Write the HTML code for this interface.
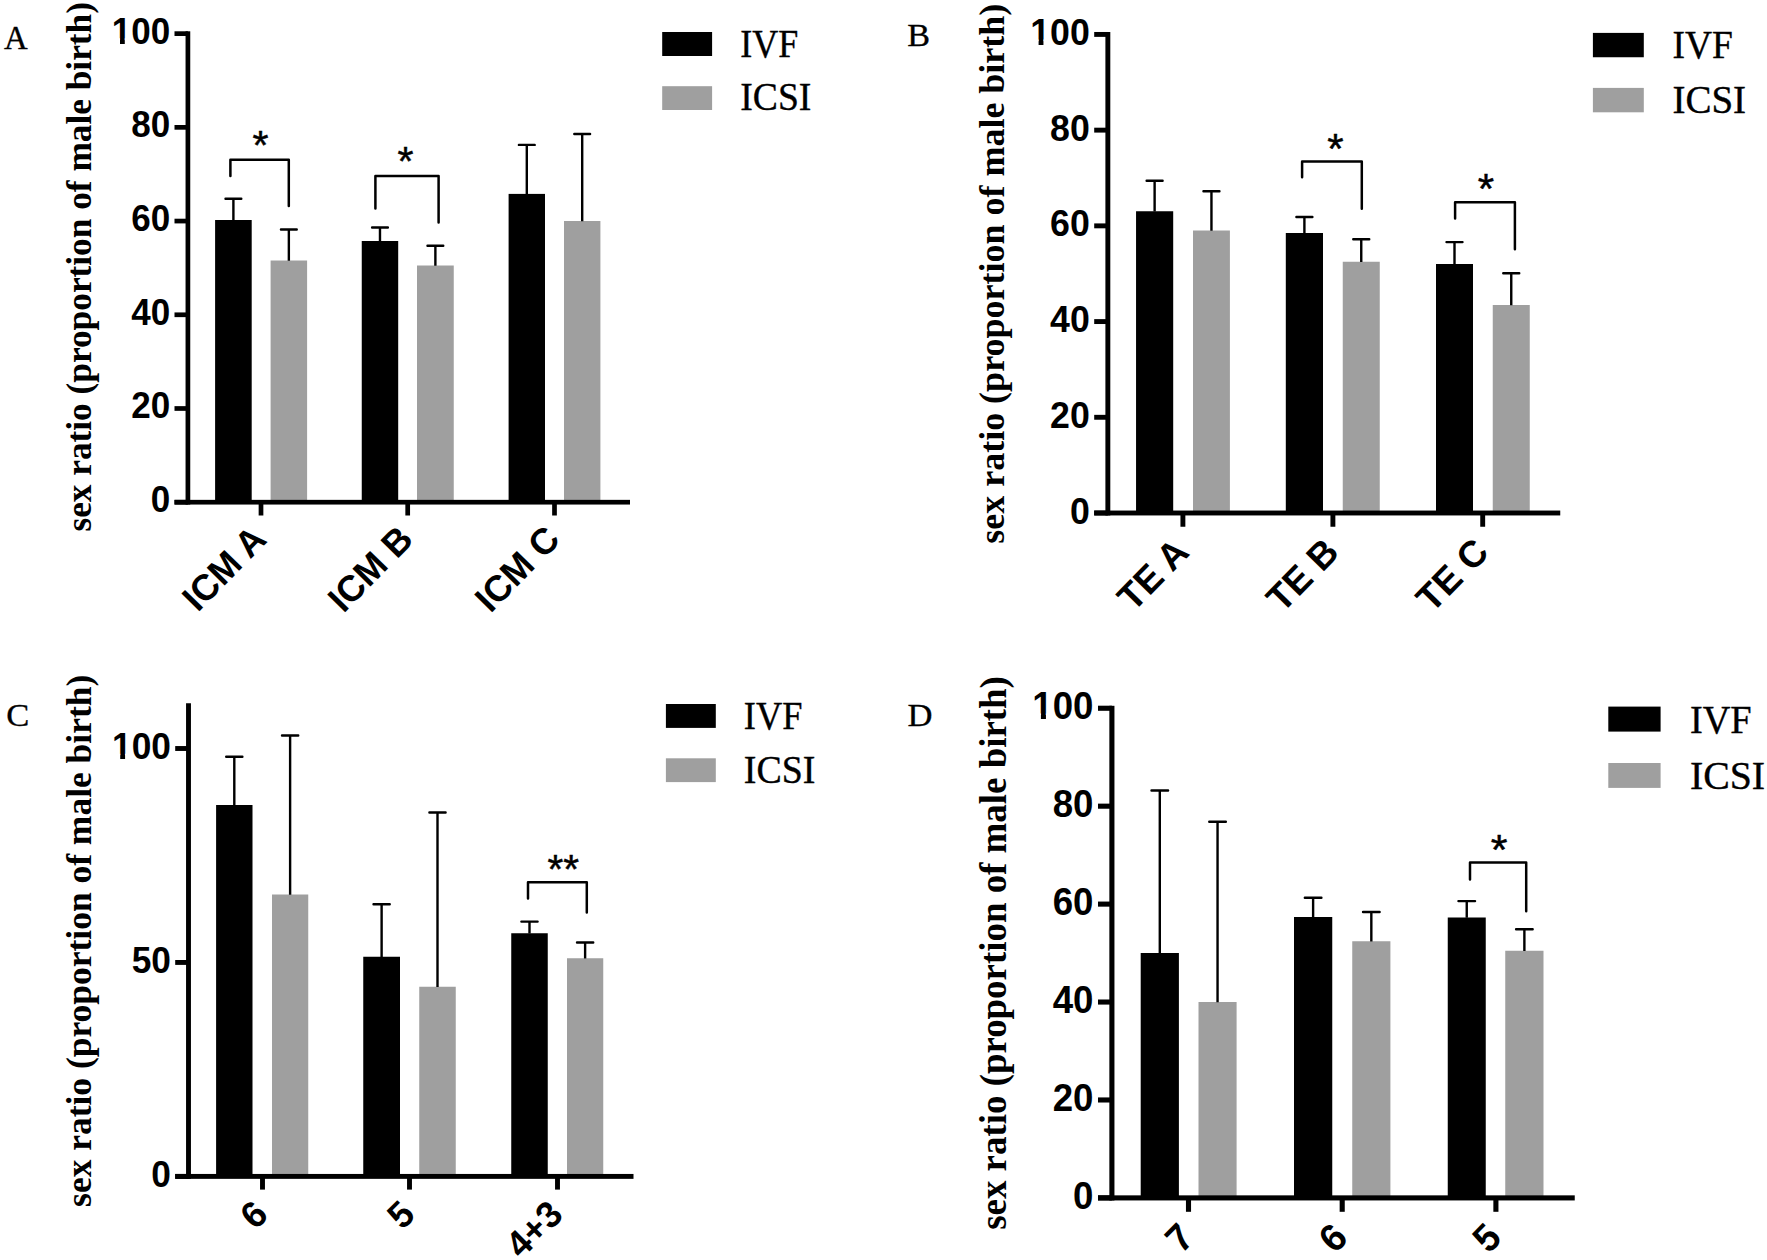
<!DOCTYPE html>
<html lang="en">
<head>
<meta charset="utf-8">
<title>Sex ratio by embryo grade: IVF vs ICSI</title>
<style>
html,body{margin:0;padding:0;background:#fff;}
body{width:1767px;height:1260px;overflow:hidden;}
svg{display:block;}
text{fill:#000;}
.tk{font-family:"Liberation Sans",Arial,Helvetica,sans-serif;font-weight:bold;}
.st{font-family:"Liberation Sans",Arial,Helvetica,sans-serif;font-weight:normal;stroke:#000;stroke-width:0.5px;}
.yl{font-family:"Liberation Serif","Times New Roman",Times,serif;font-weight:bold;}
.lt,.lg{font-family:"Liberation Serif","Times New Roman",Times,serif;font-weight:normal;stroke:#000;stroke-width:0.35px;}
</style>
</head>
<body>
<svg width="1767" height="1260" viewBox="0 0 1767 1260">
<defs>
<clipPath id="nf1"><path clip-rule="evenodd" d="M-68.4 -42H10V17.5H-68.4Z M-57.71 -5.13H-50.23V2H-57.71Z M-45.42 -5.13H-38.4V2H-45.42Z"/></clipPath>
<clipPath id="nf2"><path clip-rule="evenodd" d="M-69.56 -42.84H10V17.85H-69.56Z M-58.87 -5.23H-51.23V2H-58.87Z M-46.33 -5.23H-39.17V2H-46.33Z"/></clipPath>
<clipPath id="nf3"><path clip-rule="evenodd" d="M-68.9 -42.36H10V17.65H-68.9Z M-58.21 -5.17H-50.66V2H-58.21Z M-45.81 -5.17H-38.73V2H-45.81Z"/></clipPath>
<clipPath id="nf4"><path clip-rule="evenodd" d="M-71.15 -43.98H10V18.32H-71.15Z M-60.43 -5.37H-52.59V2H-60.43Z M-47.57 -5.37H-40.21V2H-47.57Z"/></clipPath>
</defs>
<rect x="0" y="0" width="1767" height="1260" fill="#fff"/>
<rect x="215.1" y="220" width="36.6" height="282.2" fill="#000"/>
<rect x="270.6" y="260.5" width="36.5" height="241.7" fill="#9f9f9f"/>
<rect x="361.75" y="241" width="36.45" height="261.2" fill="#000"/>
<rect x="417" y="265.5" width="36.75" height="236.7" fill="#9f9f9f"/>
<rect x="508.6" y="193.9" width="36.4" height="308.3" fill="#000"/>
<rect x="564" y="221" width="36.4" height="281.2" fill="#9f9f9f"/>
<path d="M233.4 220.3V198.75 M288.85 260.8V229.5 M379.98 241.3V227.5 M435.38 265.8V245.75 M526.8 194.2V144.9 M582.2 221.3V134" fill="none" stroke="#000" stroke-width="2.4"/>
<path d="M225.5 198.75H241.3 M280.95 229.5H296.75 M372.08 227.5H387.88 M427.48 245.75H443.27 M518.9 144.9H534.7 M574.3 134H590.1" fill="none" stroke="#000" stroke-width="2.4" stroke-linecap="round"/>
<rect x="185.55" y="31.3" width="4.7" height="473.25" fill="#000"/>
<rect x="174.5" y="499.85" width="455.5" height="4.7" fill="#000"/>
<rect x="174.5" y="499.85" width="13.4" height="4.7" fill="#000"/>
<text class="tk" transform="translate(170.2 512.2) scale(1 1.05)" font-size="35" text-anchor="end">0</text>
<rect x="174.5" y="406.14" width="13.4" height="4.7" fill="#000"/>
<text class="tk" transform="translate(170.2 418.49) scale(1 1.05)" font-size="35" text-anchor="end">20</text>
<rect x="174.5" y="312.43" width="13.4" height="4.7" fill="#000"/>
<text class="tk" transform="translate(170.2 324.78) scale(1 1.05)" font-size="35" text-anchor="end">40</text>
<rect x="174.5" y="218.71" width="13.4" height="4.7" fill="#000"/>
<text class="tk" transform="translate(170.2 231.06) scale(1 1.05)" font-size="35" text-anchor="end">60</text>
<rect x="174.5" y="125" width="13.4" height="4.7" fill="#000"/>
<text class="tk" transform="translate(170.2 137.35) scale(1 1.05)" font-size="35" text-anchor="end">80</text>
<rect x="174.5" y="31.29" width="13.4" height="4.7" fill="#000"/>
<g transform="translate(170.2 43.64) scale(1 1.05)" clip-path="url(#nf1)"><text class="tk" font-size="35" text-anchor="end">100</text></g>
<rect x="258.65" y="502.2" width="4.7" height="13.3" fill="#000"/>
<text class="tk" transform="translate(268.3 541.2) rotate(-45.5) scale(1 1.021)" font-size="35.98" text-anchor="end">ICM A</text>
<rect x="405.35" y="502.2" width="4.7" height="13.3" fill="#000"/>
<text class="tk" transform="translate(415 541.2) rotate(-45.5) scale(1 1.021)" font-size="35.98" text-anchor="end">ICM B</text>
<rect x="552.15" y="502.2" width="4.7" height="13.3" fill="#000"/>
<text class="tk" transform="translate(561.8 541.2) rotate(-45.5) scale(1 1.021)" font-size="35.98" text-anchor="end">ICM C</text>
<path d="M230.4 176V159.8H288.8V206" fill="none" stroke="#000" stroke-width="2.5" stroke-linejoin="round" stroke-linecap="round"/>
<text class="st" transform="translate(260.4 159.21)" font-size="41" text-anchor="middle">*</text>
<path d="M375.4 208.5V176H438.6V222.5" fill="none" stroke="#000" stroke-width="2.5" stroke-linejoin="round" stroke-linecap="round"/>
<text class="st" transform="translate(405.5 175.01)" font-size="41" text-anchor="middle">*</text>
<text class="yl" transform="translate(90.7 531.6) rotate(-90) scale(1 1.02)" font-size="35.3">sex ratio (proportion of male birth)</text>
<text class="lt" transform="translate(4 48.8)" font-size="32.8">A</text>
<rect x="662.2" y="32" width="49.9" height="24" fill="#000"/>
<rect x="662.2" y="86.2" width="49.9" height="23.8" fill="#9f9f9f"/>
<text class="lg" transform="translate(740.3 56.5) scale(0.9858 1.085)" font-size="36.5">IVF</text>
<text class="lg" transform="translate(740.3 110.3) scale(1.031 1.085)" font-size="36.5">ICSI</text>
<rect x="1136.05" y="211.25" width="37.15" height="301.75" fill="#000"/>
<rect x="1193" y="230.5" width="36.9" height="282.5" fill="#9f9f9f"/>
<rect x="1285.8" y="233" width="37.2" height="280" fill="#000"/>
<rect x="1342.75" y="261.75" width="37" height="251.25" fill="#9f9f9f"/>
<rect x="1436" y="264" width="37" height="249" fill="#000"/>
<rect x="1492.75" y="305" width="37" height="208" fill="#9f9f9f"/>
<path d="M1154.62 211.55V180.75 M1211.45 230.8V191.25 M1304.4 233.3V217 M1361.25 262.05V239.25 M1454.5 264.3V242.1 M1511.25 305.3V273.25" fill="none" stroke="#000" stroke-width="2.4"/>
<path d="M1146.62 180.75H1162.62 M1203.45 191.25H1219.45 M1296.4 217H1312.4 M1353.25 239.25H1369.25 M1446.5 242.1H1462.5 M1503.25 273.25H1519.25" fill="none" stroke="#000" stroke-width="2.4" stroke-linecap="round"/>
<rect x="1105.4" y="32" width="4.9" height="483.45" fill="#000"/>
<rect x="1094.2" y="510.55" width="466.05" height="4.9" fill="#000"/>
<rect x="1094.2" y="510.55" width="13.65" height="4.9" fill="#000"/>
<text class="tk" transform="translate(1089.8 523.6) scale(1 1.05)" font-size="35.7" text-anchor="end">0</text>
<rect x="1094.2" y="414.84" width="13.65" height="4.9" fill="#000"/>
<text class="tk" transform="translate(1089.8 427.89) scale(1 1.05)" font-size="35.7" text-anchor="end">20</text>
<rect x="1094.2" y="319.12" width="13.65" height="4.9" fill="#000"/>
<text class="tk" transform="translate(1089.8 332.17) scale(1 1.05)" font-size="35.7" text-anchor="end">40</text>
<rect x="1094.2" y="223.41" width="13.65" height="4.9" fill="#000"/>
<text class="tk" transform="translate(1089.8 236.46) scale(1 1.05)" font-size="35.7" text-anchor="end">60</text>
<rect x="1094.2" y="127.69" width="13.65" height="4.9" fill="#000"/>
<text class="tk" transform="translate(1089.8 140.74) scale(1 1.05)" font-size="35.7" text-anchor="end">80</text>
<rect x="1094.2" y="31.98" width="13.65" height="4.9" fill="#000"/>
<g transform="translate(1089.8 45.03) scale(1 1.05)" clip-path="url(#nf2)"><text class="tk" font-size="35.7" text-anchor="end">100</text></g>
<rect x="1180.45" y="513" width="4.9" height="13.75" fill="#000"/>
<text class="tk" transform="translate(1190.8 554.2) rotate(-45.5) scale(1 1.021)" font-size="36.7" text-anchor="end">TE A</text>
<rect x="1330.45" y="513" width="4.9" height="13.75" fill="#000"/>
<text class="tk" transform="translate(1340.8 554.2) rotate(-45.5) scale(1 1.021)" font-size="36.7" text-anchor="end">TE B</text>
<rect x="1480.25" y="513" width="4.9" height="13.75" fill="#000"/>
<text class="tk" transform="translate(1490.6 554.2) rotate(-45.5) scale(1 1.021)" font-size="36.7" text-anchor="end">TE C</text>
<path d="M1302.1 177.3V161.6H1361.8V208.7" fill="none" stroke="#000" stroke-width="2.5" stroke-linejoin="round" stroke-linecap="round"/>
<text class="st" transform="translate(1335.4 162.83)" font-size="42" text-anchor="middle">*</text>
<path d="M1455.1 218.4V202.2H1514.9V249.3" fill="none" stroke="#000" stroke-width="2.5" stroke-linejoin="round" stroke-linecap="round"/>
<text class="st" transform="translate(1486 203.33)" font-size="42" text-anchor="middle">*</text>
<text class="yl" transform="translate(1003.5 543.8) rotate(-90) scale(1 1.01)" font-size="36">sex ratio (proportion of male birth)</text>
<text class="lt" transform="translate(907.3 46.2) scale(1 0.93)" font-size="34.2">B</text>
<rect x="1592.9" y="32.9" width="50.9" height="24.35" fill="#000"/>
<rect x="1592.9" y="87.9" width="50.9" height="24.4" fill="#9f9f9f"/>
<text class="lg" transform="translate(1672.4 58.1) scale(1.027 1.105)" font-size="36.5">IVF</text>
<text class="lg" transform="translate(1672.4 113.1) scale(1.069 1.105)" font-size="36.5">ICSI</text>
<rect x="216.1" y="805" width="36.4" height="371.4" fill="#000"/>
<rect x="272" y="894.5" width="36.25" height="281.9" fill="#9f9f9f"/>
<rect x="363.25" y="956.75" width="36.75" height="219.65" fill="#000"/>
<rect x="419.25" y="986.75" width="36.5" height="189.65" fill="#9f9f9f"/>
<rect x="511.25" y="933.25" width="36.5" height="243.15" fill="#000"/>
<rect x="567" y="958.25" width="36.25" height="218.15" fill="#9f9f9f"/>
<path d="M234.3 805.3V756.75 M290.12 894.8V735.5 M381.62 957.05V904.25 M437.5 987.05V812.5 M529.5 933.55V921.6 M585.12 958.55V942.5" fill="none" stroke="#000" stroke-width="2.4"/>
<path d="M226.2 756.75H242.4 M282.02 735.5H298.23 M373.52 904.25H389.73 M429.4 812.5H445.6 M521.4 921.6H537.6 M577.02 942.5H593.23" fill="none" stroke="#000" stroke-width="2.4" stroke-linecap="round"/>
<rect x="186.05" y="703.25" width="4.9" height="475.6" fill="#000"/>
<rect x="175.2" y="1173.95" width="458.3" height="4.9" fill="#000"/>
<rect x="175.2" y="1173.95" width="13.3" height="4.9" fill="#000"/>
<text class="tk" transform="translate(170.9 1187.1) scale(1 1.05)" font-size="35.3" text-anchor="end">0</text>
<rect x="175.2" y="960" width="13.3" height="4.9" fill="#000"/>
<text class="tk" transform="translate(170.9 973.15) scale(1 1.05)" font-size="35.3" text-anchor="end">50</text>
<rect x="175.2" y="746.05" width="13.3" height="4.9" fill="#000"/>
<g transform="translate(170.9 759.2) scale(1 1.05)" clip-path="url(#nf3)"><text class="tk" font-size="35.3" text-anchor="end">100</text></g>
<rect x="260.05" y="1176.4" width="4.9" height="13.2" fill="#000"/>
<text class="tk" transform="translate(269.8 1216.7) rotate(-44.5) scale(1 1.021)" font-size="36.29" text-anchor="end">6</text>
<rect x="407.05" y="1176.4" width="4.9" height="13.2" fill="#000"/>
<text class="tk" transform="translate(416.8 1216.7) rotate(-44.5) scale(1 1.021)" font-size="36.29" text-anchor="end">5</text>
<rect x="555.05" y="1176.4" width="4.9" height="13.2" fill="#000"/>
<text class="tk" transform="translate(564.8 1216.7) rotate(-44.5) scale(1 1.021)" font-size="36.29" text-anchor="end">4+3</text>
<path d="M528 898.4V882.3H586.8V912.5" fill="none" stroke="#000" stroke-width="2.5" stroke-linejoin="round" stroke-linecap="round"/>
<text class="st" transform="translate(563.2 883.36)" font-size="40.5" text-anchor="middle">**</text>
<text class="yl" transform="translate(90.7 1206.9) rotate(-90) scale(1 1.012)" font-size="35.47">sex ratio (proportion of male birth)</text>
<text class="lt" transform="translate(6.2 725.6) scale(1 0.93)" font-size="34.6">C</text>
<rect x="665.9" y="704" width="49.9" height="23.9" fill="#000"/>
<rect x="665.9" y="758.3" width="49.9" height="23.8" fill="#9f9f9f"/>
<text class="lg" transform="translate(743.8 728.7) scale(0.9965 1.075)" font-size="36.5">IVF</text>
<text class="lg" transform="translate(743.8 783.1) scale(1.039 1.075)" font-size="36.5">ICSI</text>
<rect x="1140.7" y="953" width="38.2" height="244.9" fill="#000"/>
<rect x="1198.5" y="1002" width="38.1" height="195.9" fill="#9f9f9f"/>
<rect x="1294" y="917" width="38.25" height="280.9" fill="#000"/>
<rect x="1352.25" y="941.25" width="38.15" height="256.65" fill="#9f9f9f"/>
<rect x="1447.75" y="917.5" width="38" height="280.4" fill="#000"/>
<rect x="1505.25" y="950.75" width="38.25" height="247.15" fill="#9f9f9f"/>
<path d="M1159.8 953.3V790.5 M1217.55 1002.3V821.75 M1313.12 917.3V897.75 M1371.33 941.55V912 M1466.75 917.8V901.1 M1524.38 951.05V929.25" fill="none" stroke="#000" stroke-width="2.4"/>
<path d="M1151.5 790.5H1168.1 M1209.25 821.75H1225.85 M1304.83 897.75H1321.42 M1363.03 912H1379.62 M1458.45 901.1H1475.05 M1516.08 929.25H1532.67" fill="none" stroke="#000" stroke-width="2.4" stroke-linecap="round"/>
<rect x="1109.35" y="705.8" width="5.1" height="494.65" fill="#000"/>
<rect x="1098" y="1195.35" width="476.75" height="5.1" fill="#000"/>
<rect x="1098" y="1195.35" width="13.9" height="5.1" fill="#000"/>
<text class="tk" transform="translate(1093.5 1208.9) scale(1 1.05)" font-size="36.65" text-anchor="end">0</text>
<rect x="1098" y="1097.42" width="13.9" height="5.1" fill="#000"/>
<text class="tk" transform="translate(1093.5 1110.97) scale(1 1.05)" font-size="36.65" text-anchor="end">20</text>
<rect x="1098" y="999.49" width="13.9" height="5.1" fill="#000"/>
<text class="tk" transform="translate(1093.5 1013.04) scale(1 1.05)" font-size="36.65" text-anchor="end">40</text>
<rect x="1098" y="901.56" width="13.9" height="5.1" fill="#000"/>
<text class="tk" transform="translate(1093.5 915.11) scale(1 1.05)" font-size="36.65" text-anchor="end">60</text>
<rect x="1098" y="803.63" width="13.9" height="5.1" fill="#000"/>
<text class="tk" transform="translate(1093.5 817.18) scale(1 1.05)" font-size="36.65" text-anchor="end">80</text>
<rect x="1098" y="705.7" width="13.9" height="5.1" fill="#000"/>
<g transform="translate(1093.5 719.25) scale(1 1.05)" clip-path="url(#nf4)"><text class="tk" font-size="36.65" text-anchor="end">100</text></g>
<rect x="1185.95" y="1197.9" width="5.1" height="13.9" fill="#000"/>
<text class="tk" transform="translate(1196.1 1239.5) rotate(-45.5) scale(1 1.021)" font-size="37.68" text-anchor="end">7</text>
<rect x="1339.65" y="1197.9" width="5.1" height="13.9" fill="#000"/>
<text class="tk" transform="translate(1349.8 1239.5) rotate(-45.5) scale(1 1.021)" font-size="37.68" text-anchor="end">6</text>
<rect x="1493.35" y="1197.9" width="5.1" height="13.9" fill="#000"/>
<text class="tk" transform="translate(1503.5 1239.5) rotate(-45.5) scale(1 1.021)" font-size="37.68" text-anchor="end">5</text>
<path d="M1470 879.4V862.6H1526.2V911.25" fill="none" stroke="#000" stroke-width="2.5" stroke-linejoin="round" stroke-linecap="round"/>
<text class="st" transform="translate(1499 863.94)" font-size="43" text-anchor="middle">*</text>
<text class="yl" transform="translate(1006.1 1229.8) rotate(-90) scale(1 1.02)" font-size="36.9">sex ratio (proportion of male birth)</text>
<text class="lt" transform="translate(907.5 725.9) scale(1 0.93)" font-size="34.6">D</text>
<rect x="1608.3" y="706.6" width="52.3" height="25" fill="#000"/>
<rect x="1608.3" y="763" width="52.3" height="24.9" fill="#9f9f9f"/>
<text class="lg" transform="translate(1689.9 732.5) scale(1.05 1.115)" font-size="36.5">IVF</text>
<text class="lg" transform="translate(1689.9 788.8) scale(1.091 1.115)" font-size="36.5">ICSI</text>
</svg>
</body>
</html>
